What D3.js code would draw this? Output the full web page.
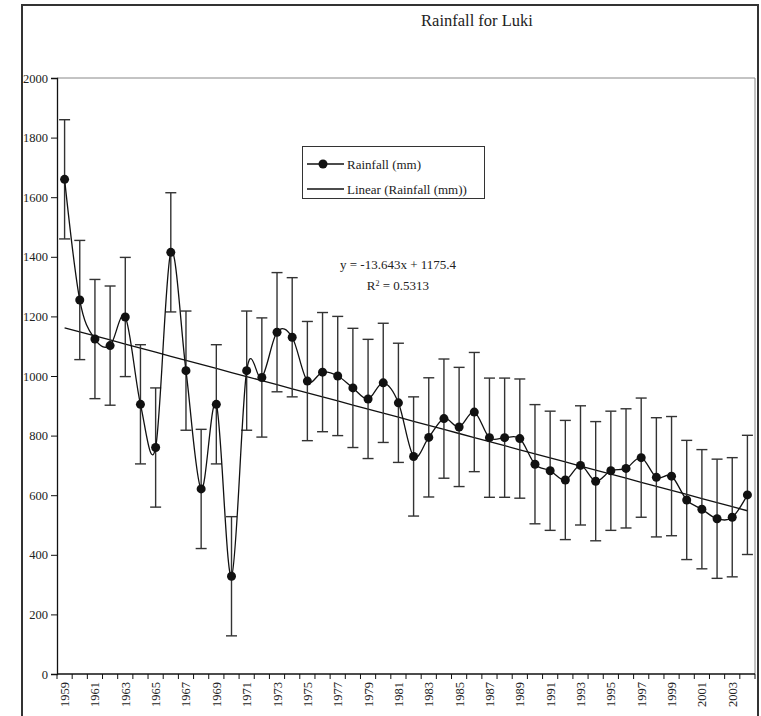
<!DOCTYPE html>
<html>
<head>
<meta charset="utf-8">
<script src="https://cdn.jsdelivr.net/npm/d3@7"></script>
<style>
  html, body { margin: 0; padding: 0; background: #fff; }
  svg { display: block; }
  svg text { font-family: "Liberation Serif", "DejaVu Serif", serif !important; fill: #222; }
</style>
</head>
<body>
<svg id="chart" width="761" height="716"></svg>
<script>
// ---- data ----
const years = d3.range(1959, 2005);
const rainfall = [
  1660, 1255, 1124, 1102, 1198, 905, 760, 1415, 1018, 621,
  905, 328, 1018, 995, 1147, 1130, 983, 1013, 1000, 960,
  923, 977, 910, 730, 794, 857, 829, 879, 793, 793,
  790, 704, 682, 651, 700, 647, 682, 690, 726, 660,
  664, 584, 553, 521, 526, 601
];
const errorAmount = 200;
const yTicks = [0, 200, 400, 600, 800, 1000, 1200, 1400, 1600, 1800, 2000];
const xTickLabels = d3.range(1959, 2004, 2);
const trendSlope = -13.643;
const trendIntercept = 1175.4;
const title = "Rainfall for Luki";
const legendLabels = ["Rainfall (mm)", "Linear (Rainfall (mm))"];
const equationText = "y = -13.643x + 1175.4";
const r2Value = "0.5313";

// ---- layout ----
const serif = '"Liberation Serif", "DejaVu Serif", serif';
const svg = d3.select("#chart");
const plot = { left: 57, right: 755, top: 78, bottom: 674 };

// outer frame
svg.append("rect")
  .attr("x", 22).attr("y", 5).attr("width", 736).attr("height", 720)
  .attr("fill", "none").attr("stroke", "#333").attr("stroke-width", 2);

// title
svg.append("text")
  .attr("x", 477).attr("y", 26)
  .attr("text-anchor", "middle")
  .style("font-family", serif)
  .attr("font-size", 16.5)
  .text(title);

const x = d3.scaleBand().domain(years).range([plot.left, plot.right]).paddingInner(0).paddingOuter(0);
const xc = d => x(d) + x.bandwidth() / 2;
const y = d3.scaleLinear().domain([0, 2000]).range([plot.bottom, plot.top]);

// plot area border (top & right, gray)
svg.append("path")
  .attr("d", `M${plot.left},${plot.top}H${plot.right}V${plot.bottom}`)
  .attr("fill", "none").attr("stroke", "#888").attr("stroke-width", 1);

// y axis
const yAxis = svg.append("g")
  .attr("transform", `translate(${plot.left},0)`)
  .call(d3.axisLeft(y).tickValues(yTicks).tickSize(6).tickPadding(3).tickFormat(d3.format("d")));
yAxis.attr("font-family", null).style("font-family", serif);
yAxis.select(".domain").attr("stroke", "#111").attr("stroke-width", 1.3);
yAxis.selectAll(".tick line").attr("stroke", "#111");
yAxis.selectAll(".tick text")
  .style("font-family", serif)
  .attr("font-size", 12.5).attr("fill", "#444");

// x axis with ticks at band boundaries
const xAxisG = svg.append("g").attr("transform", `translate(0,${plot.bottom})`);
xAxisG.append("line")
  .attr("x1", plot.left).attr("x2", plot.right)
  .attr("stroke", "#111").attr("stroke-width", 1.3);
const boundaries = years.map(d => x(d)).concat([plot.right]);
xAxisG.selectAll("line.tk").data(boundaries).join("line")
  .attr("class", "tk")
  .attr("x1", d => d).attr("x2", d => d)
  .attr("y1", 0).attr("y2", 5)
  .attr("stroke", "#111");
xAxisG.selectAll("text.lbl").data(xTickLabels).join("text")
  .attr("class", "lbl")
  .attr("transform", d => `translate(${xc(d) + 4.5},8) rotate(-90)`)
  .attr("text-anchor", "end")
  .style("font-family", serif)
  .attr("font-size", 12.5).attr("fill", "#444")
  .text(d => d);

// trendline
const trend = years.map((yr, i) => ({ yr, v: trendSlope * (i + 1) + trendIntercept }));
svg.append("path")
  .datum(trend)
  .attr("fill", "none").attr("stroke", "#111").attr("stroke-width", 1.3)
  .attr("d", d3.line().x(d => xc(d.yr)).y(d => y(d.v)));

// error bars
const data = years.map((yr, i) => ({ yr, v: rainfall[i] }));
const eb = svg.append("g").attr("stroke", "#333").attr("stroke-width", 1.4);
eb.selectAll("line.v").data(data).join("line")
  .attr("x1", d => xc(d.yr)).attr("x2", d => xc(d.yr))
  .attr("y1", d => y(d.v + errorAmount)).attr("y2", d => y(d.v - errorAmount));
eb.selectAll("line.t").data(data).join("line")
  .attr("x1", d => xc(d.yr) - 5.5).attr("x2", d => xc(d.yr) + 5.5)
  .attr("y1", d => y(d.v + errorAmount)).attr("y2", d => y(d.v + errorAmount));
eb.selectAll("line.b").data(data).join("line")
  .attr("x1", d => xc(d.yr) - 5.5).attr("x2", d => xc(d.yr) + 5.5)
  .attr("y1", d => y(d.v - errorAmount)).attr("y2", d => y(d.v - errorAmount));

// smoothed series line
svg.append("path")
  .datum(data)
  .attr("fill", "none").attr("stroke", "#111").attr("stroke-width", 1.3)
  .attr("d", d3.line().x(d => xc(d.yr)).y(d => y(d.v)).curve(d3.curveCardinal.tension(0)));

// markers
svg.append("g").selectAll("circle").data(data).join("circle")
  .attr("cx", d => xc(d.yr)).attr("cy", d => y(d.v))
  .attr("r", 4.5).attr("fill", "#111");

// legend
const lg = svg.append("g").style("font-family", serif);
lg.append("rect")
  .attr("x", 302.5).attr("y", 146.5).attr("width", 182).attr("height", 52)
  .attr("fill", "#fff").attr("stroke", "#333").attr("stroke-width", 1);
lg.append("line").attr("x1", 307).attr("x2", 344).attr("y1", 164).attr("y2", 164)
  .attr("stroke", "#111").attr("stroke-width", 1.3);
lg.append("circle").attr("cx", 323).attr("cy", 164).attr("r", 4.5).attr("fill", "#111");
lg.append("text").attr("x", 347).attr("y", 168.5).attr("font-size", 13).text(legendLabels[0]);
lg.append("line").attr("x1", 307).attr("x2", 344).attr("y1", 189).attr("y2", 189)
  .attr("stroke", "#111").attr("stroke-width", 1.3);
lg.append("text").attr("x", 347).attr("y", 193.5).attr("font-size", 13).text(legendLabels[1]);

// equation
svg.append("text").attr("x", 398).attr("y", 269).attr("text-anchor", "middle")
  .style("font-family", serif)
  .attr("font-size", 13).text(equationText);
const r2 = svg.append("text").attr("x", 398).attr("y", 290).attr("text-anchor", "middle")
  .style("font-family", serif)
  .attr("font-size", 13);
r2.append("tspan").text("R");
r2.append("tspan").attr("baseline-shift", "super").attr("font-size", 8).text("2");
r2.append("tspan").text(" = " + r2Value);
</script>
</body>
</html>
